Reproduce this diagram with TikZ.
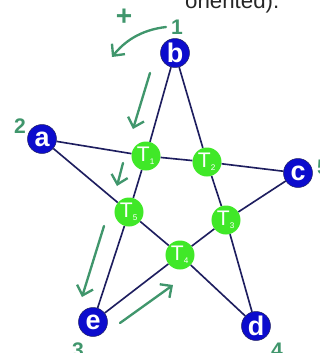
\documentclass[tikz,border=0pt]{standalone}
\usepackage{fontspec}
\setmainfont{Liberation Sans}
\usepackage{xcolor}
\usetikzlibrary{arrows.meta}

\definecolor{vblue}{RGB}{12,12,205}
\definecolor{tgreen}{RGB}{64,232,40}
\definecolor{pen}{RGB}{64,150,108}
\definecolor{navy}{RGB}{30,30,95}

\begin{document}
\begin{tikzpicture}[x=0.03cm, y=-0.03cm,
  vert/.style={circle, draw=navy, thin, fill=vblue, text=white, inner sep=0pt,
    minimum size=0.87cm, font=\fontsize{23}{23}\selectfont\bfseries},
  tnode/.style={circle, fill=tgreen, text=white, inner sep=0pt,
    minimum size=0.87cm, font=\fontsize{18}{18}\selectfont},
  edge/.style={navy, line width=1.4pt},
  garr/.style={-{Straight Barb[length=2.6mm, width=5mm]}, pen, line width=2pt,
    line cap=round},
  num/.style={pen, font=\fontsize{18}{18}\selectfont\bfseries}]
\useasboundingbox (0,0) rectangle (320,353);
% ================= caption line (cut at the top) =================
\node[anchor=base west, inner sep=0pt, font=\fontsize{19}{19}\selectfont,
  black!85] (cap) at (185,8) {oriented).};
% ================= the star =================
\node[vert] (b) at (175,53)  {b};
\node[vert] (a) at (42,139)  {a};
\node[vert] (c) at (298,173) {c};
\node[vert] (d) at (256,326) {d};
\node[vert] (e) at (93,322)  {e};
\node[tnode] (t1) at (146,156) {T\textsubscript{\scriptsize 1}};
\node[tnode] (t2) at (207,162) {T\textsubscript{\scriptsize 2}};
\node[tnode] (t3) at (226,220) {T\textsubscript{\scriptsize 3}};
\node[tnode] (t4) at (180,255) {T\textsubscript{\scriptsize 4}};
\node[tnode] (t5) at (129,212) {T\textsubscript{\scriptsize 5}};
% edges
\draw[edge] (b) -- (t1) -- (t5) -- (e);
\draw[edge] (b) -- (t2) -- (t3) -- (d);
\draw[edge] (a) -- (t1) -- (t2) -- (c);
\draw[edge] (a) -- (t5) -- (t4) -- (d);
\draw[edge] (e) -- (t4) -- (t3) -- (c);
% vertex numbers
\node[num] (n1) at (177,27)  {1};
\node[num] (n2) at (20,126)  {2};
\node[num] (n3) at (78,350)  {3};
\node[num] (n4) at (277,350) {4};
\node[num] (n5) at (323,167) {5};
% ================= orientation arrows =================
\node[pen, font=\fontsize{24}{24}\selectfont\bfseries] (plus) at (124,17) {+};
\coordinate (p0) at (166,27);
\coordinate (p1) at (112,57);
\draw[garr] (p0) .. controls (140,30) and (124,42) .. (p1);
\coordinate (q0) at (150,73);
\coordinate (q1) at (133,129);
\draw[garr] (q0) -- (q1);
\coordinate (r0) at (123,163);
\coordinate (r1) at (117,186);
\draw[garr] (r0) -- (r1);
\coordinate (s0) at (104,226);
\coordinate (s1) at (82,297);
\draw[garr] (s0) -- (s1);
\coordinate (u0) at (120,323);
\coordinate (u1) at (173,285);
\draw[garr] (u0) -- (u1);
\end{tikzpicture}
\end{document}
